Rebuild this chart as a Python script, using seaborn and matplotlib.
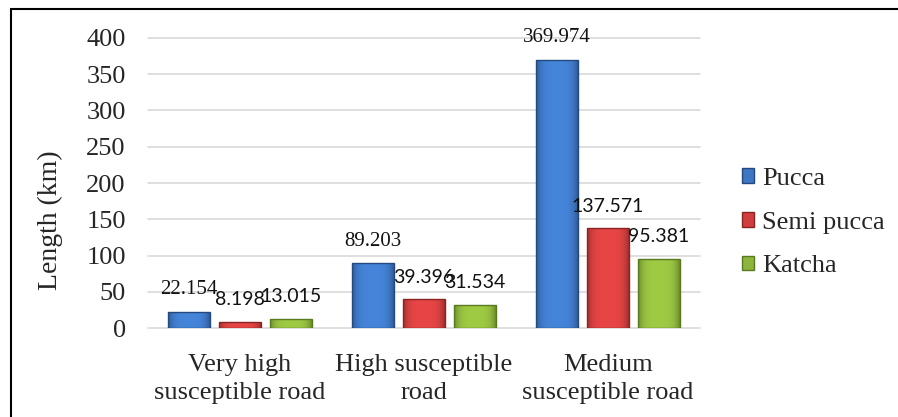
import numpy as np
import pandas as pd
import matplotlib.pyplot as plt
import matplotlib.colors as mcolors
from matplotlib.patches import Patch, Rectangle
import seaborn as sns

# data
categories = ['Very high\nsusceptible road', 'High susceptible\nroad', 'Medium\nsusceptible road']
series = ['Pucca', 'Semi pucca', 'Katcha']
pucca = [22.154, 89.203, 369.974]
semi_pucca = [8.198, 39.396, 137.571]
katcha = [13.015, 31.534, 95.381]
yticks = [0, 50, 100, 150, 200, 250, 300, 350, 400]

colors = ['#3D76C2', '#CF3E3E', '#8DB43C']
edges = ['#24497F', '#8A2422', '#5A7A1F']
# Pucca labels show in a serif face, the others in a sans face
label_fonts = [('Liberation Serif', 15), ('Lato', 14), ('Lato', 14)]

df = pd.DataFrame({
    'road': categories * 3,
    'type': np.repeat(series, len(categories)),
    'length': pucca + semi_pucca + katcha,
})

sns.set_style('white')
plt.rcParams['font.family'] = ['Liberation Serif', 'DejaVu Serif']

fig = plt.figure(figsize=(8.98, 4.17), dpi=100)
ax = fig.add_axes([0.1648, 0.2134, 0.6147, 0.6955])

sns.barplot(data=df, x='road', y='length', hue='type', order=categories,
            hue_order=series, palette=colors, saturation=1, width=0.83,
            gap=0.18, legend=False, ax=ax, zorder=2)

# shaded look for each bar (gradient clipped to the bar)
prof = np.linspace(-1, 1, 64)
shade = 1.12 - 0.35 * prof ** 4
for cont, col, ec, (fam, fs) in zip(ax.containers, colors, edges, label_fonts):
    rgb = np.array(mcolors.to_rgb(col))
    img = np.clip(rgb[None, None, :] * shade[None, :, None], 0, 1)
    img = np.repeat(img, 2, axis=0)
    for bar in cont:
        x0, y0 = bar.get_x(), bar.get_y()
        w, h = bar.get_width(), bar.get_height()
        im = ax.imshow(img, extent=[x0, x0 + w, y0, y0 + h], origin='lower',
                       aspect='auto', zorder=2.5)
        im.set_clip_path(bar)
        bar.set_facecolor('none')
        bar.set_edgecolor(ec)
        bar.set_linewidth(1)
        bar.set_zorder(3)
        ax.annotate(f'{h:.3f}', (x0 + w / 2, y0 + h),
                    xytext=(0, 16), textcoords='offset points',
                    ha='center', va='center', fontsize=fs, family=fam,
                    color='#111111', zorder=5)

ax.set_xlim(-0.5, len(categories) - 0.5)
ax.set_ylim(0, 400)
ax.set_yticks(yticks)
ax.grid(axis='y', color='#D9D9D9', linewidth=1.2)
for gl in ax.yaxis.get_gridlines():
    gl.set_clip_on(False)
ax.set_axisbelow(True)
sns.despine(ax=ax, left=True, bottom=True)
ax.tick_params(axis='both', length=0, labelsize=19)
ax.tick_params(axis='y', pad=16)
ax.tick_params(axis='x', pad=18.5)
for t in ax.get_xticklabels():
    t.set_linespacing(1.35)
ax.set_xlabel('')
ax.set_ylabel('')

fig.text(50 / 898, 1 - 220 / 417, 'Length (km)', rotation=90,
         ha='center', va='center', fontsize=20)

handles = [Patch(facecolor=c, edgecolor=e) for c, e in zip(colors, edges)]
fig.legend(handles, series, loc='center left', bbox_to_anchor=(0.826, 0.466),
           frameon=False, fontsize=19, handlelength=0.47, handleheight=0.47,
           handletextpad=0.3, labelspacing=0.82, borderpad=0, borderaxespad=0)

# outer frame (only top and left edges show in the picture)
fig.patches.append(Rectangle((11 / 898, -0.1), 1.2, 1 - 9 / 417 + 0.1,
                             transform=fig.transFigure, fill=False,
                             edgecolor='black', linewidth=1.5))

fig.savefig('out.png', dpi=100)
